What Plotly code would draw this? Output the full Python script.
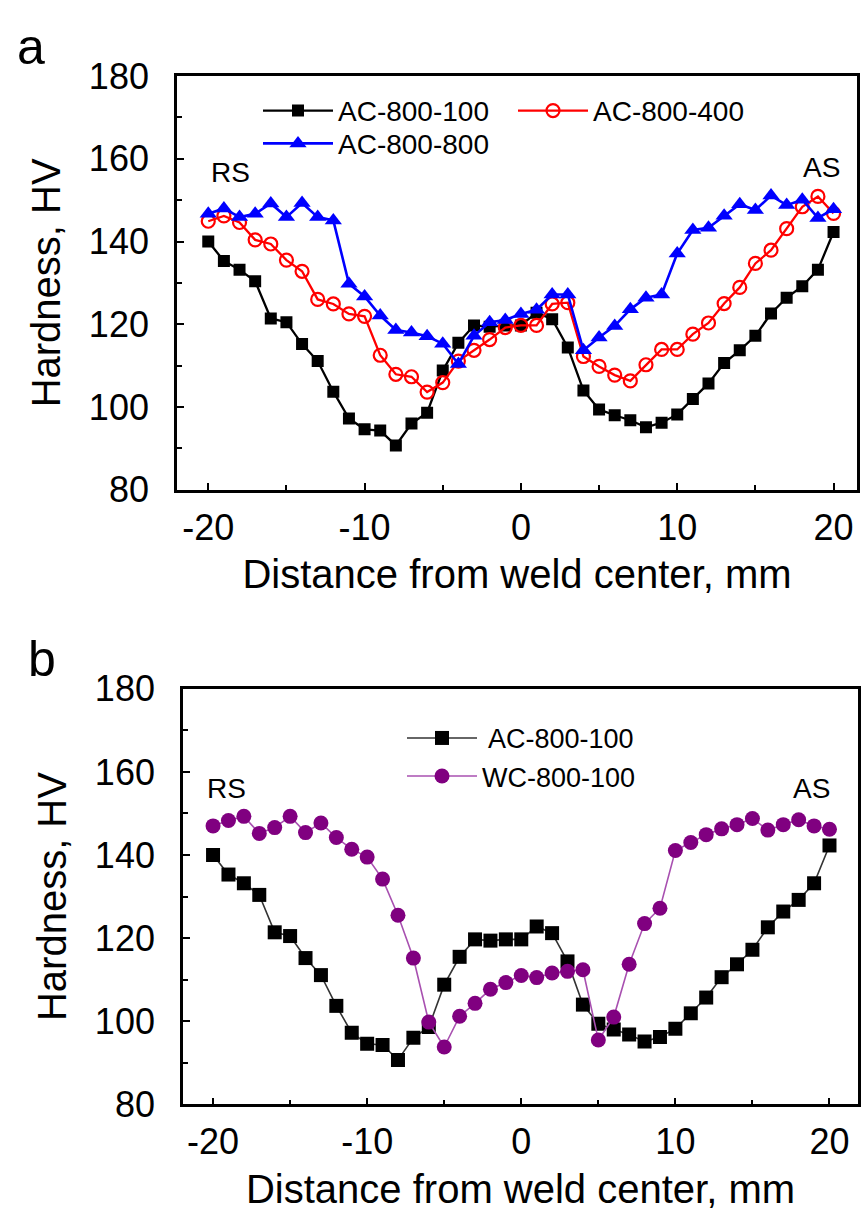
import plotly.graph_objects as go

# ---- data ----
distance = list(range(-20, 21))

ac_800_100 = [140.0, 135.3, 133.2, 130.4, 121.4, 120.5, 115.2, 111.1, 103.7, 97.2, 94.6, 94.3, 90.7,
              96.0, 98.6, 108.8, 115.5, 119.7, 119.4, 119.7, 119.7, 122.8, 121.2, 114.4, 104.0, 99.4, 98.0,
              96.8, 95.1, 96.2, 98.2, 101.9, 105.7, 110.6, 113.7, 117.2, 122.6, 126.4, 129.2, 133.2, 142.3]

ac_800_400 = [144.9, 146.2, 144.6, 140.4, 139.4, 135.5, 132.8, 126.0, 124.9, 122.5, 121.9, 112.5, 107.9,
              107.3, 103.6, 105.9, 111.1, 113.7, 116.3, 119.2, 119.7, 119.7, 124.9, 125.2, 112.2, 109.8, 107.7,
              106.3, 110.2, 113.9, 113.9, 117.6, 120.3, 125.0, 128.9, 134.7, 137.9, 143.1, 148.4, 150.9, 146.8]

ac_800_800 = [146.7, 148.0, 145.9, 146.7, 149.2, 145.9, 149.3, 145.9, 145.1, 129.8, 126.7, 122.1, 118.6,
              118.0, 117.1, 115.3, 110.4, 117.2, 120.5, 121.0, 122.5, 123.5, 127.2, 127.2, 113.7, 116.8, 119.6,
              123.6, 126.4, 127.2, 137.1, 142.8, 143.3, 146.2, 149.0, 147.6, 151.1, 148.8, 150.1, 145.7, 147.8]

wc_800_100 = [147.0, 148.3, 149.3, 145.2, 146.6, 149.3, 145.4, 147.7, 144.2, 141.4, 139.5, 134.2, 125.5,
              115.2, 99.8, 93.8, 101.2, 104.3, 107.7, 109.3, 111.0, 110.5, 111.6, 112.0, 112.4, 95.5, 101.0,
              113.7, 123.5, 127.2, 141.1, 143.0, 144.9, 146.3, 147.3, 148.8, 146.0, 147.3, 148.5, 147.0, 146.2]

x_ticks = [-20, -10, 0, 10, 20]
x_tick_labels = ["-20", "-10", "0", "10", "20"]
y_ticks = [80, 100, 120, 140, 160, 180]
y_tick_labels = ["80", "100", "120", "140", "160", "180"]

W, H = 862, 1222
FONT = "Liberation Sans, Arial, sans-serif"

fig = go.Figure()

# ---- panel a ----
fig.add_trace(go.Scatter(x=distance, y=ac_800_100, name="AC-800-100", mode="lines+markers",
                         line=dict(color="black", width=2.3),
                         marker=dict(symbol="square", size=12, color="black"),
                         xaxis="x", yaxis="y", legend="legend"))
fig.add_trace(go.Scatter(x=distance, y=ac_800_400, name="AC-800-400", mode="lines+markers",
                         line=dict(color="#ff0000", width=2.3),
                         marker=dict(symbol="circle-open", size=13, color="#ff0000", line=dict(width=2.2)),
                         xaxis="x", yaxis="y", legend="legend"))
fig.add_trace(go.Scatter(x=distance, y=ac_800_800, name="AC-800-800", mode="lines+markers",
                         line=dict(color="#0000ff", width=2.6),
                         marker=dict(symbol="triangle-up", size=15, color="#0000ff"),
                         xaxis="x", yaxis="y", legend="legend2"))

# ---- panel b ----
fig.add_trace(go.Scatter(x=distance, y=ac_800_100, name=" AC-800-100", mode="lines+markers",
                         line=dict(color="#333333", width=1.6),
                         marker=dict(symbol="square", size=14, color="black"),
                         xaxis="x2", yaxis="y2", legend="legend3"))
fig.add_trace(go.Scatter(x=distance, y=wc_800_100, name="WC-800-100", mode="lines+markers",
                         line=dict(color="#a850b0", width=1.6),
                         marker=dict(symbol="circle", size=15, color="#800080"),
                         xaxis="x2", yaxis="y2", legend="legend3"))


def xaxis_style(rng, dom, anchor):
    return dict(domain=dom, anchor=anchor, range=rng, tickmode="array",
                tickvals=x_ticks, ticktext=x_tick_labels,
                showline=True, mirror=True, linecolor="black", linewidth=2.7,
                ticks="inside", ticklen=7, tickwidth=2, tickcolor="black",
                minor=dict(ticks="inside", ticklen=5, tickwidth=2, dtick=5, tickcolor="black"),
                showgrid=False, zeroline=False, ticklabelstandoff=4,
                tickfont=dict(family=FONT, size=36, color="black"),
                title=dict(text="Distance from weld center, mm", standoff=14,
                           font=dict(family=FONT, size=40, color="black")))


def yaxis_style(dom, anchor):
    return dict(domain=dom, anchor=anchor, range=[80, 180], tickmode="array",
                tickvals=y_ticks, ticktext=y_tick_labels,
                showline=True, mirror=True, linecolor="black", linewidth=2.7,
                ticks="inside", ticklen=7, tickwidth=2, tickcolor="black",
                minor=dict(ticks="inside", ticklen=5, tickwidth=2, dtick=10, tickcolor="black"),
                showgrid=False, zeroline=False, ticklabelstandoff=18,
                tickfont=dict(family=FONT, size=36, color="black"),
                title=dict(text="Hardness, HV", standoff=16,
                           font=dict(family=FONT, size=40, color="black")))


def px_x(p):
    return p / W


def px_y(p):
    return 1 - p / H


fig.update_layout(
    width=W, height=H, margin=dict(l=0, r=0, t=0, b=0),
    paper_bgcolor="white", plot_bgcolor="white",
    font=dict(family=FONT, color="black"),
    xaxis=xaxis_style([-22, 21.5], [px_x(177), px_x(857)], "y"),
    yaxis=yaxis_style([px_y(486), px_y(58)], "x"),
    xaxis2=xaxis_style([-21.95, 21.85], [px_x(183), px_x(858)], "y2"),
    yaxis2=yaxis_style([px_y(1122), px_y(692)], "x2"),
    legend=dict(orientation="h", x=px_x(258), y=px_y(94), xanchor="left", yanchor="middle",
                font=dict(family=FONT, size=28, color="black"), bgcolor="rgba(0,0,0,0)",
                itemwidth=70, entrywidth=170, entrywidthmode="pixels", tracegroupgap=0),
    legend2=dict(orientation="h", x=px_x(258), y=px_y(128), xanchor="left", yanchor="middle",
                 font=dict(family=FONT, size=28, color="black"), bgcolor="rgba(0,0,0,0)",
                 itemwidth=70),
    legend3=dict(orientation="v", x=px_x(402), y=px_y(763), xanchor="left", yanchor="middle",
                 font=dict(family=FONT, size=27, color="black"), bgcolor="rgba(0,0,0,0)",
                 itemwidth=70, tracegroupgap=0),
    showlegend=True,
)

annots = [
    dict(text="a", x=px_x(31), y=px_y(28), xref="paper", yref="paper", font=dict(size=50)),
    dict(text="b", x=px_x(42), y=px_y(661), xref="paper", yref="paper", font=dict(size=50)),
    dict(text="RS", x=-18.6, y=156.8, xref="x", yref="y", font=dict(size=28)),
    dict(text="AS", x=19.2, y=158.0, xref="x", yref="y", font=dict(size=28)),
    dict(text="RS", x=-19.1, y=156.0, xref="x2", yref="y2", font=dict(size=28)),
    dict(text="AS", x=18.8, y=156.0, xref="x2", yref="y2", font=dict(size=28)),
]
for a in annots:
    a["showarrow"] = False
    a["xanchor"] = "center"
    a["yanchor"] = "middle"
    a["font"].update(family=FONT, color="black")
    fig.add_annotation(**a)

fig.write_html("out.html")
